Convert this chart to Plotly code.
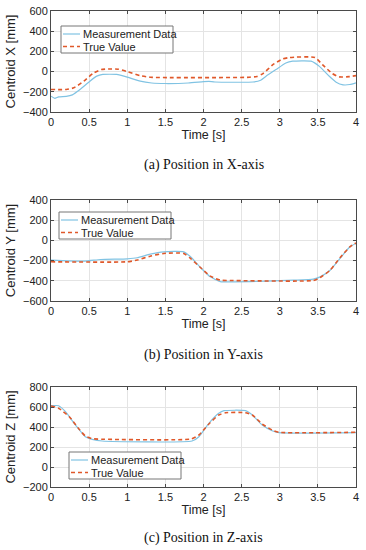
import plotly.graph_objects as go

# ---------------- data ----------------
x_meas_t = [0, 0.05, 0.1, 0.2, 0.28, 0.38, 0.51, 0.6, 0.68, 0.86, 0.99, 1.17, 1.32, 1.5, 1.8, 2.0, 2.07, 2.15, 2.65, 2.75, 2.82, 2.95, 3.08, 3.17, 3.41, 3.52, 3.65, 3.74, 3.83, 3.92, 4.0]
x_meas_v = [-243, -265, -250, -245, -230, -177, -95, -45, -28, -28, -52, -95, -113, -118, -113, -100, -97, -103, -103, -85, -46, 20, 85, 103, 103, 52, -46, -105, -131, -128, -111]
x_true_t = [0, 0.2, 0.3, 0.43, 0.56, 0.66, 0.75, 0.88, 0.99, 1.17, 1.3, 2.6, 2.7, 2.78, 2.91, 3.04, 3.13, 3.46, 3.56, 3.69, 3.78, 3.91, 4.0]
x_true_v = [-177, -177, -160, -95, -13, 20, 26, 24, 3, -40, -56, -56, -48, -20, 69, 125, 140, 140, 69, -20, -52, -50, -40]

y_meas_t = [0, 0.44, 0.65, 1.0, 1.13, 1.3, 1.48, 1.74, 1.83, 1.96, 2.09, 2.22, 2.4, 2.83, 3.18, 3.44, 3.53, 3.66, 3.79, 3.92, 4.0]
y_meas_v = [-195, -205, -189, -182, -172, -136, -113, -113, -162, -268, -361, -408, -411, -404, -394, -384, -361, -295, -179, -63, -30]
y_true_t = [0, 1.0, 1.13, 1.3, 1.48, 1.74, 1.83, 1.96, 2.09, 2.22, 2.35, 3.44, 3.53, 3.66, 3.79, 3.92, 4.0]
y_true_v = [-212, -212, -195, -156, -129, -129, -179, -268, -354, -394, -397, -397, -368, -295, -172, -63, -26]

z_meas_t = [0, 0.1, 0.19, 0.32, 0.45, 0.54, 0.67, 1.85, 1.94, 2.07, 2.2, 2.27, 2.55, 2.64, 2.77, 2.9, 2.99, 4.0]
z_meas_v = [613, 613, 553, 420, 303, 277, 260, 260, 303, 437, 537, 563, 563, 520, 420, 363, 343, 343]
z_true_t = [0, 0.1, 0.24, 0.37, 0.45, 0.54, 0.67, 1.84, 1.94, 2.07, 2.2, 2.29, 2.55, 2.64, 2.77, 2.9, 2.99, 4.0]
z_true_v = [610, 587, 503, 377, 310, 283, 278, 280, 320, 430, 520, 543, 543, 520, 430, 370, 347, 347]

y_titles = ["Centroid X [mm]", "Centroid Y [mm]", "Centroid Z [mm]"]
captions = ["(a) Position in X-axis", "(b) Position in Y-axis", "(c) Position in Z-axis"]
legend_names = ["Measurement Data", "True Value"]
y_ranges = [[-400, 600], [-600, 400], [-200, 800]]
x_ticks = [0, 0.5, 1, 1.5, 2, 2.5, 3, 3.5, 4]
x_ticktext = ["0", "0.5", "1", "1.5", "2", "2.5", "3", "3.5", "4"]

# ---------------- layout geometry ----------------
W, H = 366, 550
x_dom = [51 / W, 356 / W]
panels_px = [(11, 112), (200, 301), (387, 487)]
legend_px = [(61, 26), (59, 212), (69, 452)]   # top-left of legend box
LEG_W, LEG_H = 112, 27
caption_y_px = [165, 355, 538]

MEAS_COLOR = "#80C3E3"
TRUE_COLOR = "#E0582A"
AX_COLOR = "#4a4a4a"
FONT = "Liberation Sans, Arial, sans-serif"


def px(xp):
    return xp / W


def py(yp):
    return 1 - yp / H


series = [
    (x_meas_t, x_meas_v, x_true_t, x_true_v),
    (y_meas_t, y_meas_v, y_true_t, y_true_v),
    (z_meas_t, z_meas_v, z_true_t, z_true_v),
]

meas_line = dict(color=MEAS_COLOR, width=1.2)
true_line = dict(color=TRUE_COLOR, width=1.6, dash="4px,3px")

fig = go.Figure()
annotations = []
shapes = []
layout = {}
for i, (mt, mv, tt, tv) in enumerate(series):
    k = "" if i == 0 else str(i + 1)
    fig.add_trace(go.Scatter(x=mt, y=mv, mode="lines", name=legend_names[0],
                             line=dict(**meas_line, shape="spline", smoothing=0.5),
                             xaxis="x" + k, yaxis="y" + k, showlegend=False))
    fig.add_trace(go.Scatter(x=tt, y=tv, mode="lines", name=legend_names[1],
                             line=dict(**true_line, shape="spline", smoothing=0.5),
                             xaxis="x" + k, yaxis="y" + k, showlegend=False))
    top, bot = panels_px[i]
    layout["xaxis" + k] = dict(
        domain=x_dom, anchor="y" + k, range=[0, 4], tickvals=x_ticks, ticktext=x_ticktext,
        showgrid=True, gridcolor="#e4e4e4", gridwidth=1, zeroline=False,
        showline=True, linecolor=AX_COLOR, linewidth=1, mirror="ticks",
        ticks="inside", ticklen=3, tickcolor=AX_COLOR, automargin=False,
        ticklabeloverflow="allow",
        tickfont=dict(family=FONT, size=11, color="#222"),
        title=dict(text="Time [s]", font=dict(family=FONT, size=12.5, color="#222"), standoff=2),
    )
    layout["yaxis" + k] = dict(
        domain=[py(bot), py(top)], anchor="x" + k, range=y_ranges[i],
        dtick=200, showgrid=True, gridcolor="#e4e4e4", gridwidth=1, zeroline=False,
        showline=True, linecolor=AX_COLOR, linewidth=1, mirror="ticks",
        ticks="inside", ticklen=3, tickcolor=AX_COLOR, automargin=False,
        ticklabeloverflow="allow",
        tickfont=dict(family=FONT, size=11, color="#222"),
        title=dict(text=y_titles[i], font=dict(family=FONT, size=13, color="#222"), standoff=4),
    )

    # legend box drawn in paper coordinates
    lx, ly = legend_px[i]
    shapes.append(dict(type="rect", xref="paper", yref="paper",
                       x0=px(lx), x1=px(lx + LEG_W), y0=py(ly), y1=py(ly + LEG_H),
                       line=dict(color="#777", width=1), fillcolor="white", layer="above"))
    for j, (name, ln) in enumerate(zip(legend_names, [meas_line, true_line])):
        cy = ly + 8 + j * 12.5
        shapes.append(dict(type="line", xref="paper", yref="paper",
                           x0=px(lx + 2), x1=px(lx + 19), y0=py(cy), y1=py(cy),
                           line=ln, layer="above"))
        annotations.append(dict(text=name, x=px(lx + 20), y=py(cy), xref="paper", yref="paper",
                                showarrow=False, xanchor="left", yanchor="middle",
                                font=dict(family=FONT, size=11, color="#222")))

    annotations.append(dict(
        text=captions[i], x=(x_dom[0] + x_dom[1]) / 2, y=py(caption_y_px[i]),
        xref="paper", yref="paper", showarrow=False, xanchor="center", yanchor="middle",
        font=dict(family="Liberation Serif, Times New Roman, serif", size=14, color="#111"),
    ))

fig.update_layout(
    width=W, height=H, margin=dict(l=0, r=0, t=0, b=0),
    paper_bgcolor="white", plot_bgcolor="white",
    showlegend=False, annotations=annotations, shapes=shapes, **layout,
)

fig.write_html(
    "out.html",
    config={"displayModeBar": False, "staticPlot": True},
    post_script="document.body.style.margin='0';document.body.style.padding='0';",
)
